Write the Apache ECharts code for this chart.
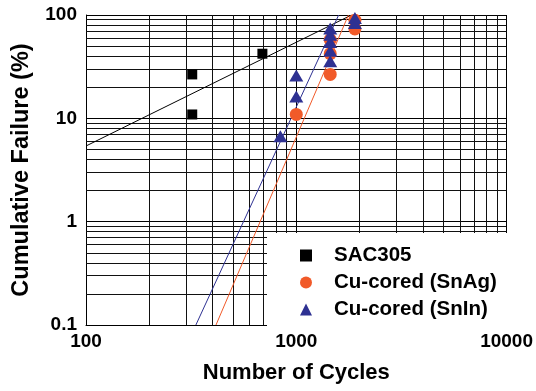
<!DOCTYPE html>
<html>
<head>
<meta charset="utf-8">
<script src="https://cdn.jsdelivr.net/npm/echarts@6/dist/echarts.min.js"></script>
<style>html,body{margin:0;padding:0;background:#fff;overflow:hidden;}#c{width:536px;height:391px;}</style>
</head>
<body>
<div id="c"></div>
<script>
// ---- data ----
const seriesNames = ['SAC305', 'Cu-cored (SnAg)', 'Cu-cored (SnIn)'];
const sacCycles = [320, 320, 690];
const sacFailure = [10.9, 26.6, 42.2];
const snagCycles = [1000, 1450, 1450, 1450, 1900, 1900];
const snagFailure = [10.9, 26.6, 42.2, 57.8, 73.4, 89.1];
const sninCycles = [840, 1000, 1000, 1450, 1450, 1450, 1450, 1450, 1900, 1900];
const sninFailure = [6.7, 16.3, 26.0, 35.6, 45.2, 54.8, 64.4, 74.0, 83.7, 93.3];
// fitted lines (end points)
const sacFitCycles = [100, 1830];
const sacFitFailure = [5.4, 100];
const snagFitCycles = [415, 1770];
const snagFitFailure = [0.1, 100];
const sninFitCycles = [333, 1590];
const sninFitFailure = [0.1, 100];
// minor grid values
const xMinorGrid = [200,300,400,500,600,700,800,900,2000,3000,4000,5000,6000,7000,8000,9000];
const yMinorGrid = [0.2,0.3,0.4,0.5,0.6,0.7,0.8,0.9,2,3,4,5,6,7,8,9,20,30,40,50,60,70,80,90];

const zip = (a, b) => a.map((v, i) => [v, b[i]]);
const FONT = '"Liberation Sans", Arial, Helvetica, sans-serif';
const RED = '#f15a29', BLUE = '#2e3192';

const gridLines = [];
xMinorGrid.forEach(v => gridLines.push({xAxis: v}));
yMinorGrid.forEach(v => gridLines.push({yAxis: v}));

const chart = echarts.init(document.getElementById('c'), null, {renderer: 'canvas'});
chart.setOption({
  animation: false,
  backgroundColor: '#fff',
  grid: {left: 86, right: 27, top: 15, bottom: 66, containLabel: false},
  xAxis: {
    type: 'log', logBase: 10, min: 100, max: 10000,
    name: 'Number of Cycles', nameLocation: 'middle', nameGap: 37,
    nameTextStyle: {fontFamily: FONT, fontWeight: 'bold', fontSize: 22, color: '#000'},
    axisLine: {show: true, onZero: false, lineStyle: {color: '#000', width: 1}},
    axisTick: {show: false},
    axisLabel: {fontFamily: FONT, fontWeight: 'bold', fontSize: 19, color: '#000', margin: 7,
      formatter: v => String(v)},
    splitLine: {show: true, lineStyle: {color: '#000', width: 1}},
    minorTick: {show: false}, minorSplitLine: {show: false}
  },
  yAxis: {
    type: 'log', logBase: 10, min: 0.1, max: 100,
    name: 'Cumulative Failure (%)', nameLocation: 'middle', nameGap: 52, nameRotate: 90,
    nameTextStyle: {fontFamily: FONT, fontWeight: 'bold', fontSize: 23.5, color: '#000'},
    axisLine: {show: true, onZero: false, lineStyle: {color: '#000', width: 1}},
    axisTick: {show: false},
    axisLabel: {fontFamily: FONT, fontWeight: 'bold', fontSize: 19, color: '#000', margin: 9,
      formatter: v => String(v)},
    splitLine: {show: true, lineStyle: {color: '#000', width: 1}}
  },
  legend: {
    data: [
      {name: seriesNames[0], icon: 'rect', itemStyle: {opacity: 1}},
      {name: seriesNames[1], icon: 'circle', itemStyle: {opacity: 1}},
      {name: seriesNames[2], icon: 'triangle', itemStyle: {opacity: 1}}
    ],
    orient: 'vertical', left: 267, top: 233,
    padding: [12, 12, 8, 33],
    itemWidth: 12, itemHeight: 12, itemGap: 6,
    backgroundColor: '#fff', borderWidth: 0, z: 10,
    textStyle: {fontFamily: FONT, fontWeight: 'bold', fontSize: 20.5, color: '#000', padding: [0, 0, 0, 17]}
  },
  series: [
    {
      name: 'grid', type: 'line', data: [], z: 1, silent: true,
      markLine: {silent: true, symbol: 'none', z: 1, animation: false,
        label: {show: false}, lineStyle: {color: '#111', width: 1, type: 'solid'},
        emphasis: {disabled: true}, data: gridLines}
    },
    {name: 'SAC305 fit', type: 'line', data: zip(sacFitCycles, sacFitFailure), showSymbol: false,
      lineStyle: {color: '#000', width: 1}, z: 3, silent: true},
    {name: 'SnAg fit', type: 'line', data: zip(snagFitCycles, snagFitFailure), showSymbol: false,
      lineStyle: {color: RED, width: 1}, z: 3, silent: true},
    {name: 'SnIn fit', type: 'line', data: zip(sninFitCycles, sninFitFailure), showSymbol: false,
      lineStyle: {color: BLUE, width: 1}, z: 3, silent: true},
    {name: seriesNames[0], type: 'scatter', data: zip(sacCycles, sacFailure), symbol: 'rect',
      symbolSize: 10, itemStyle: {color: '#000', opacity: 1}, z: 4},
    {name: seriesNames[1], type: 'scatter', data: zip(snagCycles, snagFailure), symbol: 'circle',
      symbolSize: 13, itemStyle: {color: RED, opacity: 1}, z: 4},
    {name: seriesNames[2], type: 'scatter', data: zip(sninCycles, sninFailure), symbol: 'triangle',
      symbolSize: [14, 12], itemStyle: {color: BLUE, opacity: 1}, z: 5}
  ]
});
</script>
</body>
</html>
